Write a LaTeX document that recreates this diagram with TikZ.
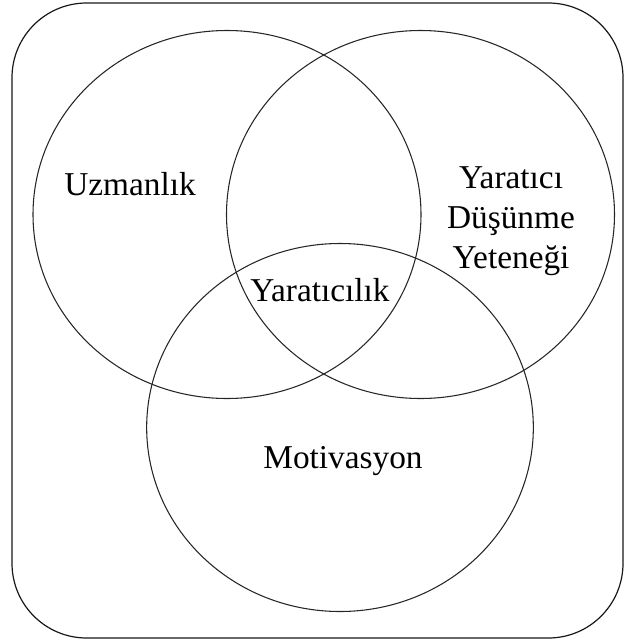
\documentclass[tikz,border=0pt]{standalone}
\usepackage{fontspec}
\setmainfont{Liberation Serif}
\begin{document}
\begin{tikzpicture}[x=0.75pt,y=-0.75pt,
  ring/.style={draw=black!85,line width=0.8pt},
  frame/.style={draw=black!90,line width=0.9pt,rounded corners=56pt},
  lbl/.style={anchor=base,inner sep=0pt,font=\fontsize{25}{30}\selectfont}]
\useasboundingbox (0,0) rectangle (624,643);
\draw[frame] (12,3) rectangle (623,638);
\draw[ring] (227,214.5) ellipse [x radius=145.5pt, y radius=138pt];
\draw[ring] (420.5,214.5) ellipse [x radius=145.5pt, y radius=138pt];
\draw[ring] (340,427.5) ellipse [x radius=145pt, y radius=138pt];
\node[lbl] (uz) at (130,195) {Uzmanlık};
\node[lbl] (y1) at (511,188) {Yaratıcı};
\node[lbl] (y2) at (511,228) {Düşünme};
\node[lbl] (y3) at (511,268) {Yeteneği};
\node[lbl] (yc) at (320,301) {Yaratıcılık};
\node[lbl] (mo) at (343,468) {Motivasyon};
\end{tikzpicture}
\end{document}
